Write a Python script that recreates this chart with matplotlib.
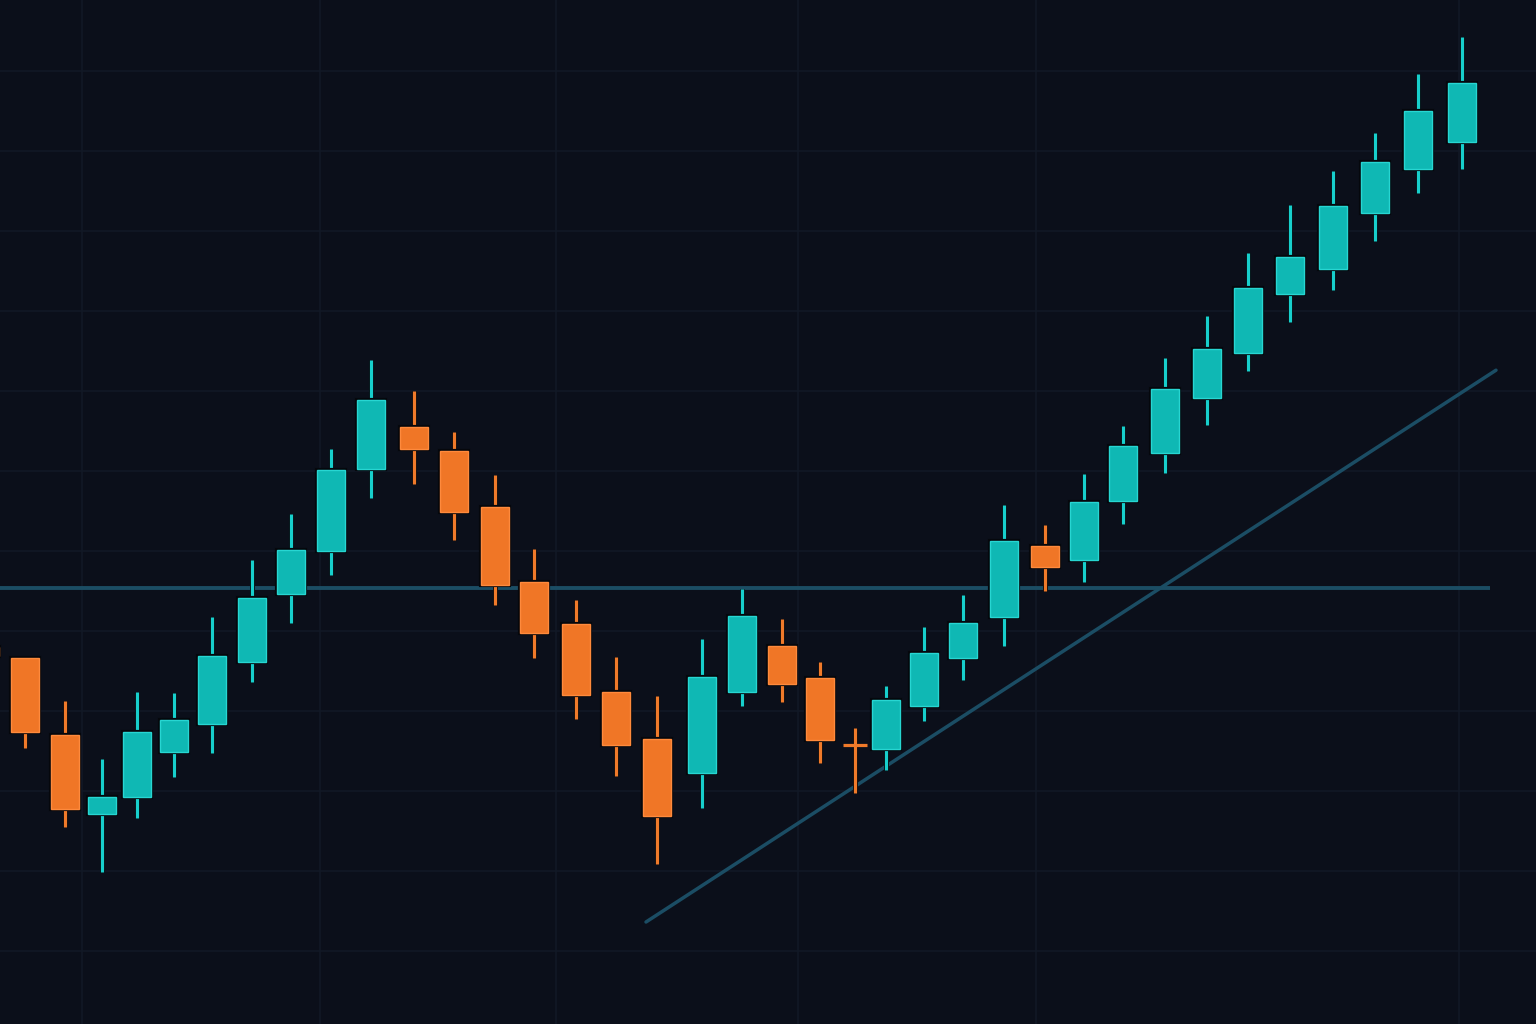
import matplotlib
matplotlib.use("Agg")
import matplotlib.pyplot as plt
from matplotlib.patches import Rectangle
import matplotlib.patheffects as pe

# ---- data ----
t = [-0.375, 0.625, 1.625, 2.55, 3.425, 4.35, 5.3, 6.3, 7.275, 8.275, 9.275,
     10.35, 11.35, 12.375, 13.35, 14.4, 15.4, 16.425, 17.55, 18.55, 19.55,
     20.5, 21.375, 22.15, 23.1, 24.075, 25.1, 26.125, 27.1, 28.075, 29.125,
     30.175, 31.2, 32.25, 33.325, 34.375, 35.45, 36.55]
opens = [48.0, 46.6, 37.0, 27.1, 29.25, 34.9, 38.4, 46.1, 54.6, 60.0, 70.25,
         75.5, 72.5, 65.5, 56.1, 50.9, 42.4, 36.5, 32.25, 42.4, 48.1,
         44.1, 35.9, 35.25, 40.6, 46.6, 51.75, 60.6, 58.9, 66.25, 72.25,
         79.1, 84.75, 92.1, 95.25, 102.25, 107.75, 111.1]
highs = [49.0, 46.6, 41.25, 34.0, 42.4, 42.25, 51.75, 58.9, 64.6, 72.75, 83.9,
         80.0, 74.9, 69.5, 60.25, 53.9, 46.75, 41.9, 49.0, 55.25, 51.5,
         46.1, 37.9, 43.1, 50.5, 54.5, 65.75, 63.25, 69.6, 75.6, 84.1,
         89.4, 97.25, 103.25, 107.5, 112.25, 119.6, 124.25]
lows = [45.5, 35.4, 25.5, 19.9, 26.6, 31.75, 34.75, 43.6, 51.0, 57.0, 66.6,
        68.4, 61.4, 53.25, 46.6, 39.0, 31.9, 20.9, 27.9, 40.6, 41.1,
        33.5, 29.75, 32.6, 38.75, 43.9, 48.1, 55.0, 56.1, 63.4, 69.75,
        75.75, 82.5, 88.6, 92.6, 98.75, 104.75, 107.75]
closes = [46.9, 37.4, 27.75, 29.25, 37.4, 38.9, 46.9, 54.1, 60.1, 70.1, 78.9,
          72.75, 64.9, 55.75, 49.75, 42.0, 35.75, 26.9, 44.25, 51.9, 43.4,
          36.4, 35.6, 41.4, 47.25, 51.0, 61.25, 58.0, 66.1, 73.1, 80.25,
          85.25, 92.9, 96.75, 103.1, 108.6, 115.0, 118.5]

support_level = 55.375
support_t_end = 37.25
trend_t = [16.15, 37.4]
trend_p = [13.625, 82.6]

grid_prices = [10, 20, 30, 40, 50, 60, 70, 80, 90, 100, 110, 120]
grid_times = [2.05, 8.0, 13.9, 19.95, 25.9, 36.475]

# ---- style ----
BG = "#0b0f1a"
GRID = "#121926"
UP_FILL, UP_EDGE, UP_WICK = "#0fb8b4", "#27d6d2", "#17cfcc"
DN_FILL, DN_EDGE, DN_WICK = "#f07626", "#ff8a3c", "#f07a2a"
LINE = "#1b4d64"

fig = plt.figure(figsize=(15.36, 10.24), dpi=100, facecolor=BG)
ax = fig.add_axes([0, 0, 1, 1])
ax.set_facecolor(BG)
ax.set_xlim(0, 38.4)
ax.set_ylim(0.875, 128.875)
for s in ax.spines.values():
    s.set_visible(False)
ax.set_xticks([])
ax.set_yticks([])

for gp in grid_prices:
    ax.axhline(gp, color=GRID, lw=1.1, zorder=0)
for gt in grid_times:
    ax.axvline(gt, color=GRID, lw=1.1, zorder=0)

ax.plot([0, support_t_end], [support_level, support_level], color=LINE,
        lw=2.8, solid_capstyle="butt", zorder=1)
ax.plot(trend_t, trend_p, color=LINE, lw=2.5, solid_capstyle="round", zorder=1)

body_w = 0.70
shadow = [pe.Stroke(linewidth=3.0, foreground="#05070c"), pe.Normal()]
for x, o, h, l, c in zip(t, opens, highs, lows, closes):
    up = c >= o
    fill, edge, wick = (UP_FILL, UP_EDGE, UP_WICK) if up else (DN_FILL, DN_EDGE, DN_WICK)
    ax.plot([x, x], [l, h], color=wick, lw=2.3, solid_capstyle="butt", zorder=2,
            path_effects=[pe.Stroke(linewidth=3.6, foreground="#05070c"), pe.Normal()])
    lo, hi = min(o, c), max(o, c)
    if hi - lo < 0.6:
        ax.plot([x - 0.29, x + 0.29], [(o + c) / 2] * 2, color=wick, lw=2.3,
                solid_capstyle="butt", zorder=3)
    else:
        r = Rectangle((x - body_w / 2, lo), body_w, hi - lo, facecolor=fill,
                      edgecolor=edge, lw=1.0, zorder=3)
        r.set_path_effects(shadow)
        ax.add_patch(r)

fig.savefig("out.png", dpi=100, facecolor=BG)
